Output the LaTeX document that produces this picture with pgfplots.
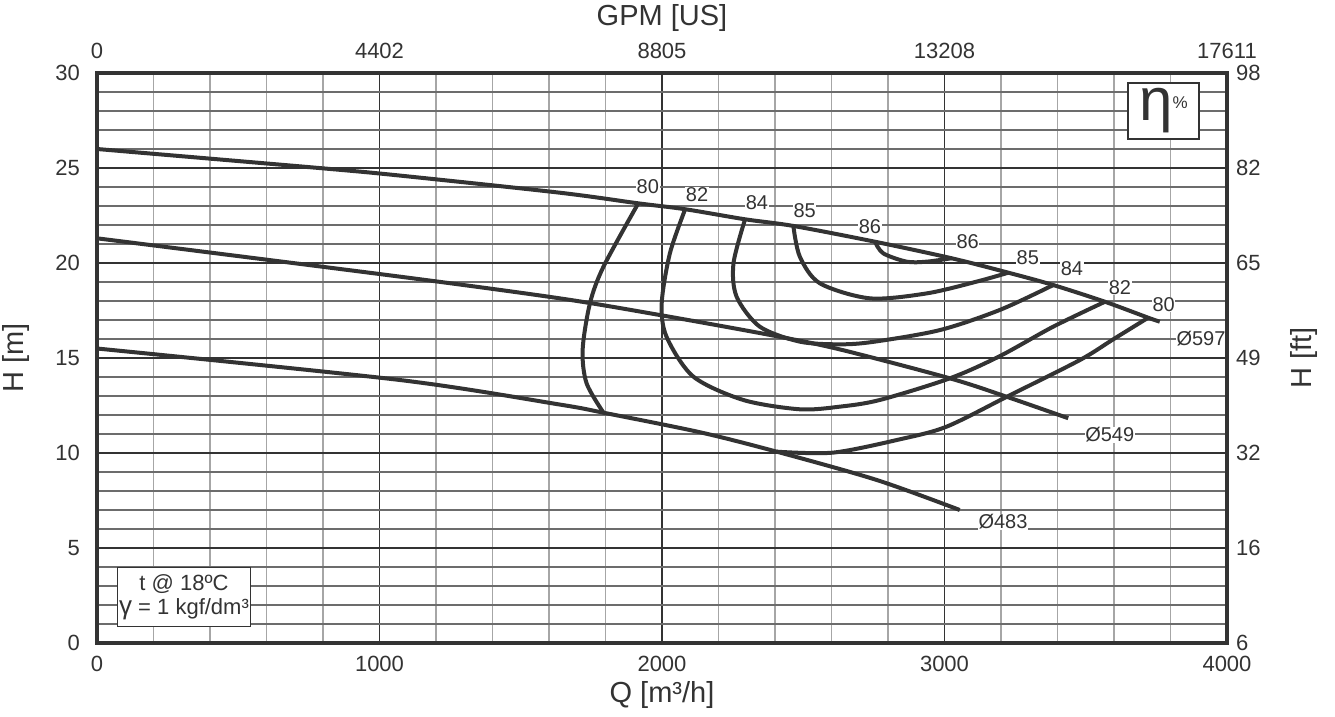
\documentclass[border=0pt]{standalone}
\usepackage{fontspec}
\setmainfont{Liberation Sans}
\usepackage{pgfplots}
\pgfplotsset{compat=1.18}
\definecolor{ink}{HTML}{333333}

\pgfplotsset{
  pump/.style={
    scale only axis, width=565pt, height=285pt,
    at={(0,0)}, anchor=south west,
    xmin=0, xmax=4000, ymin=0, ymax=30,
    xtick={0,1000,2000,3000,4000}, ytick={0,5,10,15,20,25,30},
    major tick length=0pt, minor tick length=0pt,
    tick label style={font=\fontsize{11}{13}\selectfont, text=ink},
    axis line style={line width=2pt, color=ink},
    clip=false,
  },
  curve/.style={line width=2pt, color=ink, smooth, no markers},
}
\tikzset{
  lab/.style={font=\fontsize{10}{11}\selectfont, text=ink, fill=white, inner sep=0.3pt},
  axlab/.style={font=\fontsize{14.5}{16}\selectfont, text=ink, anchor=center},
}

\begin{document}
\begin{tikzpicture}
\begin{axis}[pump,
  xticklabels={0,1000,2000,3000,4000},
  yticklabels={0,5,10,15,20,25,30},
  minor xtick={200,400,600,800,1200,1400,1600,1800,2200,2400,2600,2800,3200,3400,3600,3800},
  minor ytick={1,2,3,4,6,7,8,9,11,12,13,14,16,17,18,19,21,22,23,24,26,27,28,29},
  grid=both,
  major grid style={color=ink, line width=0.8pt},
  minor x grid style={color=gray!70, line width=0.6pt},
  minor y grid style={color=gray!85!black, line width=0.6pt},
  xlabel={Q [m³/h]},
  ylabel={H [m]},
  every axis x label/.style={axlab, at={([yshift=-26pt]axis description cs:0.5,0)}},
  every axis y label/.style={axlab, rotate=90, at={([xshift=-40.5pt]axis description cs:0,0.5)}},
  xticklabel style={yshift=-3pt},
  yticklabel style={xshift=-5pt},
]
% diameter curves
\addplot[curve] coordinates {(0,26.0) (801,24.98) (1073,24.6) (1638,23.7) (1916,23.14) (2082,22.83) (2294,22.3) (2465,21.95) (2754,21.12) (3025,20.25) (3226,19.49) (3385,18.84) (3568,17.96) (3721,17.12) (3762,16.91)};
\addplot[curve] coordinates {(0,21.3) (1073,19.28) (1638,18.14) (1993,17.26) (2394,16.18) (2630,15.45) (3019,13.93) (3220,12.96) (3438,11.83)};
\addplot[curve] coordinates {(0,15.5) (1073,13.84) (1638,12.55) (1793,12.12) (2135,11.09) (2406,10.07) (2760,8.58) (3054,7.0)};
% efficiency curves
\addplot[curve] coordinates {(1916,23.14) (1793,19.81) (1745,17.88) (1719,15.42) (1733,13.67) (1793,12.12)};
\addplot[curve] coordinates {(2406,10.07) (2606,10.02) (2842,10.72) (3008,11.39) (3226,13.0) (3479,14.89) (3597,15.98) (3721,17.12)};
\addplot[curve] coordinates {(2082,22.83) (2028,20.51) (1999,17.88) (2016,16.12) (2111,14.02) (2288,12.79) (2488,12.3) (2630,12.44) (2771,12.79) (3019,13.93) (3196,15.1) (3385,16.65) (3568,17.96)};
\addplot[curve] coordinates {(2294,22.3) (2253,19.98) (2264,18.23) (2346,16.65) (2488,15.86) (2630,15.72) (2748,15.85) (2984,16.47) (3196,17.53) (3385,18.84)};
\addplot[curve] coordinates {(2465,21.95) (2488,20.33) (2559,18.93) (2736,18.14) (2937,18.4) (3114,19.02) (3226,19.49)};
\addplot[curve] coordinates {(2754,21.12) (2783,20.51) (2866,20.07) (2937,20.07) (3025,20.25)};
% labels
\node[lab] at (axis cs:1950,24.0) {80};
\node[lab] at (axis cs:2124,23.58) {82};
\node[lab] at (axis cs:2336,23.16) {84};
\node[lab] at (axis cs:2505,22.74) {85};
\node[lab] at (axis cs:2736,21.9) {86};
\node[lab] at (axis cs:3082,21.1) {86};
\node[lab] at (axis cs:3295,20.3) {85};
\node[lab] at (axis cs:3451,19.7) {84};
\node[lab] at (axis cs:3621,18.7) {82};
\node[lab] at (axis cs:3776,17.8) {80};
\node[lab] at (axis cs:3908,16.0) {Ø597};
\node[lab] at (axis cs:3585,10.95) {Ø549};
\node[lab] at (axis cs:3207,6.37) {Ø483};
\node[draw=ink, line width=0.6pt, fill=white, text=ink, align=center,
  minimum width=66pt, minimum height=29.5pt, inner sep=1pt,
  font=\fontsize{11}{12}\selectfont] at (axis cs:308,2.4)
  {t @ 18ºC\\{\fontsize{13}{12}\selectfont γ} = 1 kgf/dm³};
\node[draw=ink, line width=0.6pt, fill=white, text=ink,
  minimum width=35.5pt, minimum height=28pt, inner sep=0pt] at (axis cs:3775,28.0)
  {{\fontsize{30}{30}\selectfont η}\raisebox{6pt}{\fontsize{8.5}{8.5}\selectfont\%}};
\end{axis}
\begin{axis}[pump,
  axis x line*=top, axis y line*=right,
  xticklabels={0,4402,8805,13208,17611},
  yticklabels={6,16,32,49,65,82,98},
  xlabel={GPM [US]},
  ylabel={H [ft]},
  every axis x label/.style={axlab, at={([yshift=27.5pt]axis description cs:0.5,1)}},
  every axis y label/.style={axlab, rotate=90, at={([xshift=38.5pt]axis description cs:1,0.5)}},
  xticklabel style={yshift=3.5pt},
  yticklabel style={xshift=1pt},
]
\end{axis}
\pgfresetboundingbox
\path[use as bounding box] (-48.5pt,-37pt) rectangle (619pt,321.5pt);
\end{tikzpicture}
\end{document}
